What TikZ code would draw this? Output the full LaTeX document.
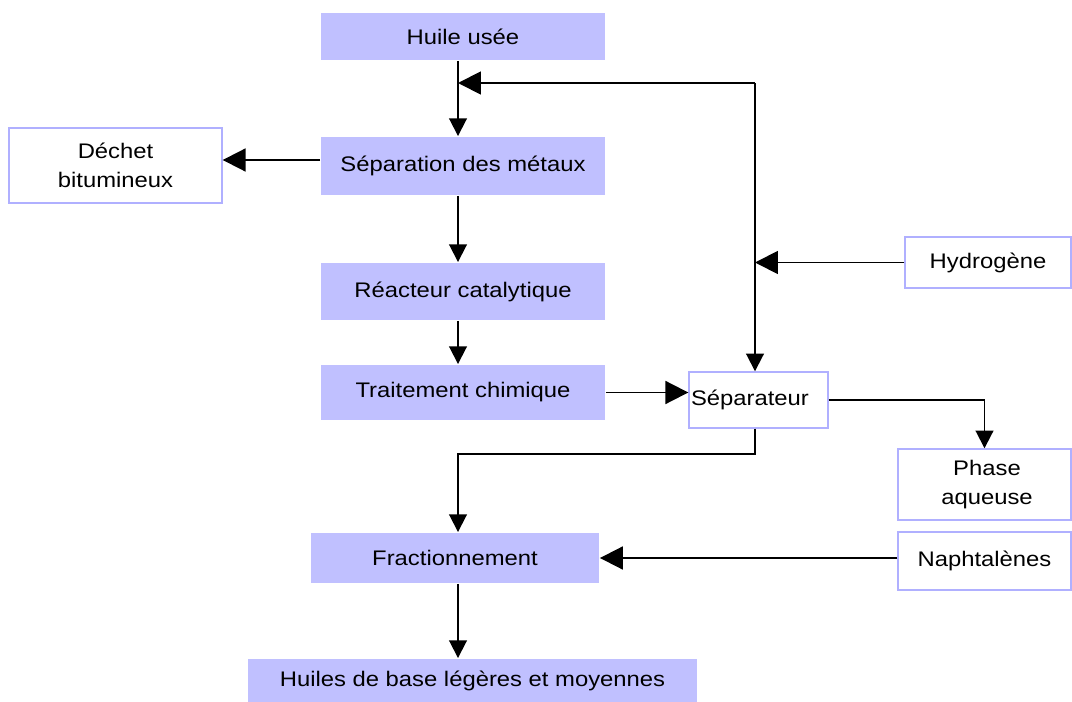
\documentclass[tikz,border=0pt]{standalone}
\usepackage{fontspec}
\setmainfont[FakeStretch=1.13]{Liberation Sans}
\usetikzlibrary{arrows.meta,positioning,calc}
\definecolor{procfill}{RGB}{192,192,255}
\definecolor{procline}{RGB}{176,176,255}
\tikzset{every picture/.style={line width=1.1pt}}

\begin{document}
\begin{tikzpicture}[x=0.02cm, y=-0.02cm, font=\fontsize{12}{16.5}\selectfont,
    proc/.style={fill=procfill, minimum width=5.68cm, align=center, inner sep=0pt},
    ext/.style={draw=procline, line width=0.8pt, fill=white, align=center, inner sep=0pt},
    harr/.style={-{Triangle[length=13pt,width=13pt]}},
    varr/.style={-{Triangle[length=10pt,width=10pt]}}]
    \useasboundingbox (0,0) rectangle (1072,702);
    % chaine principale
    \node[proc, minimum height=0.94cm] (huile) at (463,36.5) {Huile usée};
    \node[proc, minimum height=1.16cm] (metaux) at (463,166) {Séparation des métaux};
    \node[proc, minimum height=1.14cm] (reacteur) at (463,291.5) {Réacteur catalytique};
    \node[proc, minimum height=1.10cm] (traitement) at (463,392.5) {Traitement chimique};
    \node[proc, minimum width=5.76cm, minimum height=1.0cm] (fraction) at (455,558) {Fractionnement};
    \node[proc, minimum width=8.98cm, minimum height=0.86cm] (huilesbase) at (472.5,680.5) {Huiles de base légères et moyennes};
    % entrees et sorties
    \node[ext, minimum width=4.26cm, minimum height=1.5cm] (dechet) at (115.5,165.5) {Déchet\\bitumineux};
    \node[ext, minimum width=3.32cm, minimum height=1.02cm] (hydro) at (988,262.5) {Hydrogène};
    \node[ext, text width=2.7cm, minimum height=1.12cm, inner xsep=0.04cm, align=left] (separateur) at (758.5,400) {Séparateur};
    \node[ext, minimum width=3.46cm, minimum height=1.42cm] (phase) at (984.5,484.5) {\hspace*{0.1cm}Phase\\\hspace*{0.1cm}aqueuse};
    \node[ext, minimum width=3.46cm, minimum height=1.16cm] (naphta) at (984.5,561) {Naphtalènes};
    % points de raccord
    \coordinate (colA) at ([xshift=-0.1cm]huile.south);
    \coordinate (rc) at (755,83);
    % fleches verticales
    \draw[varr] (colA) -- (colA |- metaux.north);
    \draw[varr] (colA |- metaux.south) -- (colA |- reacteur.north);
    \draw[varr] (colA |- reacteur.south) -- (colA |- traitement.north);
    \draw[varr] (colA |- fraction.south) -- (colA |- huilesbase.north);
    % boucle hydrogene
    \draw[harr] (rc) -- (colA |- rc);
    \draw[varr] (rc) -- (rc |- separateur.north);
    \draw[harr] (hydro.west) -- (hydro.west -| rc);
    % fleches horizontales
    \draw[harr] ([yshift=0.12cm]metaux.west) -- ([yshift=0.12cm]metaux.west -| dechet.east);
    \draw[harr] (traitement.east) -- (traitement.east -| separateur.west);
    \draw[harr] (fraction.east -| naphta.west) -- (fraction.east);
    % sorties du separateur
    \draw[varr] (separateur.east) -| (phase.north);
    \draw[varr] (rc |- separateur.south) -- ++(0,25) -| (colA |- fraction.north);
\end{tikzpicture}
\end{document}
